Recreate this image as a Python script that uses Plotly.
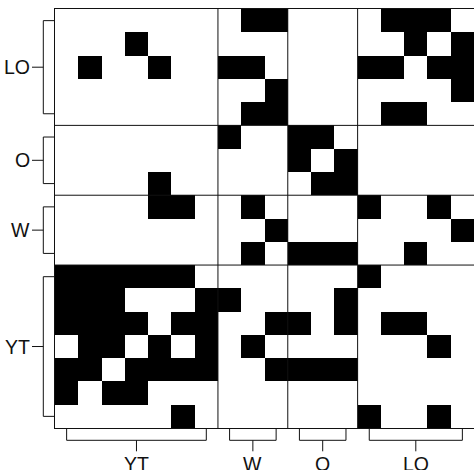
import plotly.graph_objects as go

# ---- data -------------------------------------------------------------
groups = ["YT", "W", "O", "LO"]
group_sizes = [7, 3, 3, 5]

# adjacency rows in node order YT1..YT7, W1..W3, O1..O3, LO1..LO5
# (row i is drawn at the i-th position from the bottom; columns left→right)
row_YT1 = [0,0,0,0,0,1,0, 0,0,0, 0,0,0, 1,0,0,1,0]
row_YT2 = [1,0,1,1,0,0,0, 0,0,0, 0,0,0, 0,0,0,0,0]
row_YT3 = [1,1,0,1,1,1,1, 0,0,1, 1,1,1, 0,0,0,0,0]
row_YT4 = [0,1,1,0,1,0,1, 0,1,0, 0,0,0, 0,0,0,1,0]
row_YT5 = [1,1,1,1,0,1,1, 0,0,1, 1,0,1, 0,1,1,0,0]
row_YT6 = [1,1,1,0,0,0,1, 1,0,0, 0,0,1, 0,0,0,0,0]
row_YT7 = [1,1,1,1,1,1,0, 0,0,0, 0,0,0, 1,0,0,0,0]
row_W1  = [0,0,0,0,0,0,0, 0,1,0, 1,1,1, 0,0,1,0,0]
row_W2  = [0,0,0,0,0,0,0, 0,0,1, 0,0,0, 0,0,0,0,1]
row_W3  = [0,0,0,0,1,1,0, 0,1,0, 0,0,0, 1,0,0,1,0]
row_O1  = [0,0,0,0,1,0,0, 0,0,0, 0,1,1, 0,0,0,0,0]
row_O2  = [0,0,0,0,0,0,0, 0,0,0, 1,0,1, 0,0,0,0,0]
row_O3  = [0,0,0,0,0,0,0, 1,0,0, 1,1,0, 0,0,0,0,0]
row_LO1 = [0,0,0,0,0,0,0, 0,1,1, 0,0,0, 0,1,1,0,0]
row_LO2 = [0,0,0,0,0,0,0, 0,0,1, 0,0,0, 0,0,0,0,1]
row_LO3 = [0,1,0,0,1,0,0, 1,1,0, 0,0,0, 1,1,0,1,1]
row_LO4 = [0,0,0,1,0,0,0, 0,0,0, 0,0,0, 0,0,1,0,1]
row_LO5 = [0,0,0,0,0,0,0, 0,1,1, 0,0,0, 0,1,1,1,0]

matrix = [row_YT1, row_YT2, row_YT3, row_YT4, row_YT5, row_YT6, row_YT7,
          row_W1, row_W2, row_W3, row_O1, row_O2, row_O3,
          row_LO1, row_LO2, row_LO3, row_LO4, row_LO5]

# ---- layout geometry --------------------------------------------------
W, H = 474, 470
ML, MR, MT, MB = 55, 0, 9, 42
plot_w = W - ML - MR
plot_h = H - MT - MB
n = len(matrix)
cell = plot_h / n
x_max = -0.5 + plot_w / cell

fig = go.Figure(go.Heatmap(
    z=matrix,
    x=list(range(n)),
    y=list(range(n)),
    colorscale=[[0, "white"], [1, "black"]],
    zmin=0, zmax=1,
    showscale=False,
    hoverinfo="skip",
))

shapes = []
annotations = []
line_col = "#111111"
font = dict(family="Liberation Sans, Arial, sans-serif", size=19.5, color="#111111")

# group boundaries
starts = []
s = 0
for size in group_sizes:
    starts.append(s)
    s += size
for st in starts[1:]:
    b = st - 0.5
    shapes.append(dict(type="line", xref="x", yref="paper", x0=b, x1=b, y0=0, y1=1,
                       line=dict(color=line_col, width=1)))
    shapes.append(dict(type="line", xref="paper", yref="y", x0=0, x1=1, y0=b, y1=b,
                       line=dict(color=line_col, width=1)))

# brackets (pixel offsets converted to paper units)
lx1 = -11.7 / plot_w
lx2 = -23.0 / plot_w
by1 = -12.3 / plot_h
by2 = -23.3 / plot_h

for g, st, size in zip(groups, starts, group_sizes):
    a, e = st, st + size - 1
    mid = (a + e) / 2
    # left bracket
    shapes.append(dict(type="path", xref="paper", yref="y",
                       path=f"M 0,{a} L {lx1},{a} L {lx1},{e} L 0,{e}",
                       line=dict(color=line_col, width=1)))
    shapes.append(dict(type="line", xref="paper", yref="y", x0=lx1, x1=lx2, y0=mid, y1=mid,
                       line=dict(color=line_col, width=1)))
    annotations.append(dict(text=g, xref="paper", yref="y", x=lx2 - 0.5 / plot_w, y=mid,
                            xanchor="right", yanchor="middle", showarrow=False, font=font))
    # bottom bracket
    shapes.append(dict(type="path", xref="x", yref="paper",
                       path=f"M {a},0 L {a},{by1} L {e},{by1} L {e},0",
                       line=dict(color=line_col, width=1)))
    shapes.append(dict(type="line", xref="x", yref="paper", x0=mid, x1=mid, y0=by1, y1=by2,
                       line=dict(color=line_col, width=1)))
    annotations.append(dict(text=g, xref="x", yref="paper", x=mid, y=by2,
                            xanchor="center", yanchor="top", showarrow=False, font=font))

fig.update_layout(
    width=W, height=H,
    margin=dict(l=ML, r=MR, t=MT, b=MB, pad=0),
    paper_bgcolor="white", plot_bgcolor="white",
    shapes=shapes, annotations=annotations,
    showlegend=False,
)
fig.update_xaxes(range=[-0.5, x_max], showticklabels=False, ticks="", showgrid=False,
                 zeroline=False, showline=True, mirror=True, linecolor=line_col, linewidth=1,
                 fixedrange=True)
fig.update_yaxes(range=[-0.5, n - 0.5], showticklabels=False, ticks="", showgrid=False,
                 zeroline=False, showline=True, mirror=False, linecolor=line_col, linewidth=1,
                 fixedrange=True)

fig.write_html(
    "out.html",
    config={"displayModeBar": False},
    post_script="document.body.style.margin='0';document.body.style.overflow='hidden';",
)
